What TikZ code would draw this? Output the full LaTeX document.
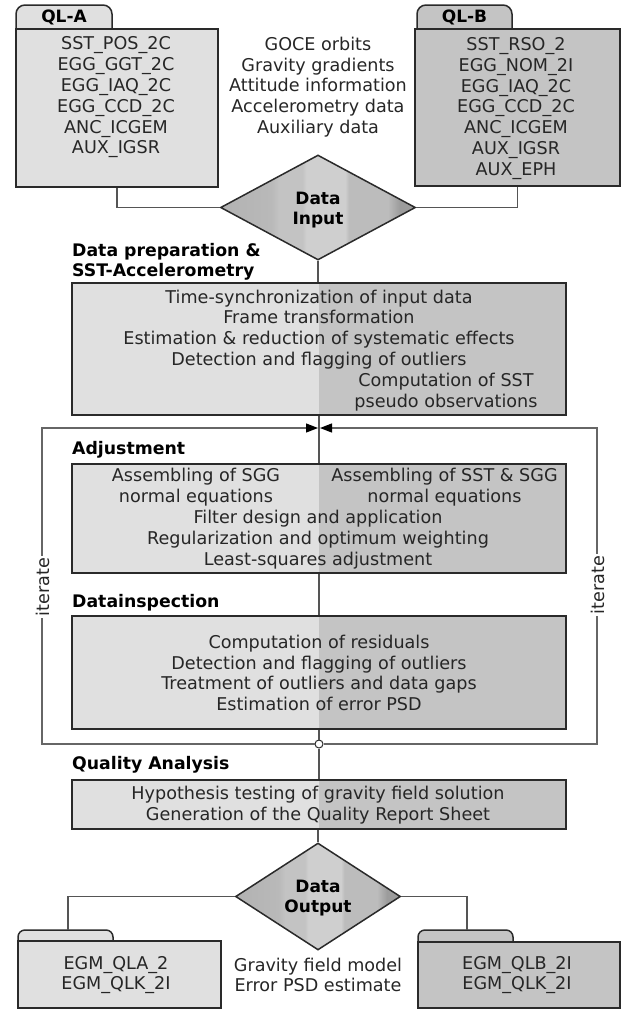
\documentclass[tikz,border=0pt]{standalone}
\usepackage{fontspec}
\setmainfont{DejaVu Sans}
\usetikzlibrary{shapes.geometric,arrows.meta}
\definecolor{lfill}{HTML}{E0E0E0}
\definecolor{dfill}{HTML}{C4C4C4}
\definecolor{bord}{HTML}{2A2A2A}
\definecolor{conn}{HTML}{555555}
\definecolor{dA}{HTML}{B2B2B2}
\definecolor{dB}{HTML}{B9B9B9}
\definecolor{dC}{HTML}{C3C3C3}
\definecolor{dD}{HTML}{CFCFCF}
\definecolor{dE}{HTML}{BCBCBC}
\definecolor{dF}{HTML}{9C9C9C}
\pgfdeclarehorizontalshading{dshade}{100bp}{color(0bp)=(dA); color(25bp)=(dA); color(38bp)=(dB); color(40bp)=(dC); color(46bp)=(dC); color(47bp)=(dD); color(57bp)=(dD); color(58bp)=(dE); color(68bp)=(dE); color(71bp)=(dF); color(100bp)=(dF)}
\begin{document}
\begin{tikzpicture}[x=1pt,y=-1pt,
  txt/.style={font={\fontsize{17.6}{20.8}\selectfont}, align=center, inner sep=0pt, text=black!85},
  hdr/.style={font={\bfseries\fontsize{17.3}{20.5}\selectfont}, align=left, inner sep=0pt, anchor=west},
  btxt/.style={font={\bfseries\fontsize{17}{20}\selectfont}, align=center, inner sep=0pt},
  box/.style={draw=bord, line width=2pt, minimum width=494pt, inner sep=0pt},
  split/.style={path picture={
     \fill[lfill] (path picture bounding box.south west) rectangle (path picture bounding box.north);
     \fill[dfill] (path picture bounding box.north) rectangle (path picture bounding box.south east);}},
  folder/.style={draw=bord, line width=2pt, inner sep=0pt},
  tabl/.style={draw=bord, line width=1.5pt, rounded corners=9pt},
  dia/.style={diamond, draw=bord, line width=1.5pt, shading=dshade, inner sep=0pt},
  cn/.style={draw=conn, line width=1.2pt},
  loopl/.style={draw=conn!90, line width=1.2pt, -{Triangle[length=12pt,width=9pt,color=black]}}
]
\useasboundingbox (0,0) rectangle (627,1010);

% --- input folders
\draw[tabl, fill=lfill] (16,29) -- (16,5) -- (112,5) -- (112,29);
\node[folder, fill=lfill, minimum width=202pt, minimum height=158pt] (qla) at (117,108) {};
\node[btxt] (qlah) at (64,17) {QL-A};
\node[txt] (qlat) at (116,97.5) {SST\_POS\_2C\\EGG\_GGT\_2C\\EGG\_IAQ\_2C\\EGG\_CCD\_2C\\ANC\_ICGEM\\AUX\_IGSR};

\draw[tabl, fill=dfill] (417,29) -- (417,5) -- (512,5) -- (512,29);
\node[folder, fill=dfill, line width=2.5pt, minimum width=205pt, minimum height=157pt] (qlb) at (517.5,107.5) {};
\node[btxt] (qlbh) at (464.5,17) {QL-B};
\node[txt] (qlbt) at (516,108.5) {SST\_RSO\_2\\EGG\_NOM\_2I\\EGG\_IAQ\_2C\\EGG\_CCD\_2C\\ANC\_ICGEM\\AUX\_IGSR\\AUX\_EPH};

\node[txt] (goce) at (318,87) {GOCE orbits\\Gravity gradients\\Attitude information\\Accelerometry data\\Auxiliary data};

% --- data input diamond
\node[dia, minimum width=195pt, minimum height=105pt] (din) at (318,207.5) {};
\node[btxt] (dinl) at (318,210) {Data\\Input};
\draw[cn] (qla.south) |- (din.west);
\draw[cn] (qlb.south) |- (din.east);

% --- data preparation
\node[hdr] (hprep) at (72,262) {Data preparation \&\\SST-Accelerometry};
\node[box, split, minimum height=132pt] (b1) at (319,349) {};
\node[txt] (b1a) at (319,329.5) {Time-synchronization of input data\\Frame transformation\\Estimation \& reduction of systematic effects\\Detection and flagging of outliers};
\node[txt] (b1b) at (446,392.5) {Computation of SST\\pseudo observations};
\draw[cn] (din.south) -- (din.south |- b1.north);

% --- adjustment
\node[hdr] (hadj) at (72,450) {Adjustment};
\node[box, split, minimum height=109pt] (b2) at (319,518.5) {};
\node[txt] (b2a) at (196,487.5) {Assembling of SGG\\normal equations};
\node[txt] (b2b) at (444.5,487.5) {Assembling of SST \& SGG\\normal equations};
\node[txt] (b2c) at (318,539.5) {Filter design and application\\Regularization and optimum weighting\\Least-squares adjustment};

% --- data inspection
\node[hdr] (hins) at (72,603) {Datainspection};
\node[box, split, minimum height=113pt] (b3) at (319,672.5) {};
\node[txt] (b3a) at (319,673) {Computation of residuals\\Detection and flagging of outliers\\Treatment of outliers and data gaps\\Estimation of error PSD};

% --- iteration loop
\node[circle, draw=bord, fill=white, line width=1pt, minimum size=8pt, inner sep=0pt] (jn) at (319,744) {};
\coordinate (lt) at (42,428);
\coordinate (lb) at (42,744);
\coordinate (rt) at (597,428);
\coordinate (rb) at (597,744);
\coordinate (mt) at (319,428);
\draw[loopl] (jn.west) -- (lb) -- (lt) -- ([xshift=-1pt]mt);
\draw[loopl] (jn.east) -- (rb) -- (rt) -- ([xshift=1pt]mt);
\node[txt, rotate=90, fill=white, inner sep=1.5pt] (itl) at (43,587) {iterate};
\node[txt, rotate=90, fill=white, inner sep=1.5pt] (itr) at (598,585) {iterate};

% --- quality analysis
\node[hdr] (hqa) at (72,765) {Quality Analysis};
\node[box, split, minimum height=49pt] (b4) at (319,804.5) {};
\node[txt] (b4a) at (318,805.5) {Hypothesis testing of gravity field solution\\Generation of the Quality Report Sheet};

\draw[cn] (b1.south) -- (b2.north);
\draw[cn] (b2.south) -- (b3.north);
\draw[cn] (b3.south) -- (jn.north);
\draw[cn] (jn.south) -- (b4.north);

% --- data output
\node[dia, minimum width=165pt, minimum height=107pt] (dout) at (318,896.5) {};
\node[btxt, font={\bfseries\fontsize{17}{19.5}\selectfont}] (doutl) at (318,898) {Data\\Output};
\draw[cn] (b4.south -| dout.north) -- (dout.north);

\draw[tabl, fill=lfill, rounded corners=7pt] (18,941) -- (18,930) -- (113,930) -- (113,941);
\node[folder, fill=lfill, minimum width=203pt, minimum height=67pt] (oa) at (119.5,974.5) {};
\node[txt] (oat) at (116,975) {EGM\_QLA\_2\\EGM\_QLK\_2I};

\draw[tabl, fill=dfill, rounded corners=7pt] (418,942) -- (418,930) -- (513,930) -- (513,942);
\node[folder, fill=dfill, line width=2.5pt, minimum width=202pt, minimum height=66pt] (ob) at (519,975) {};
\node[txt] (obt) at (517,975) {EGM\_QLB\_2I\\EGM\_QLK\_2I};

\node[txt] (mid) at (318,975) {Gravity field model\\Error PSD estimate};

\coordinate (ta) at (68,930);
\coordinate (tb) at (467,930);
\draw[cn] (dout.west) -| (ta);
\draw[cn] (dout.east) -| (tb);
\end{tikzpicture}
\end{document}
